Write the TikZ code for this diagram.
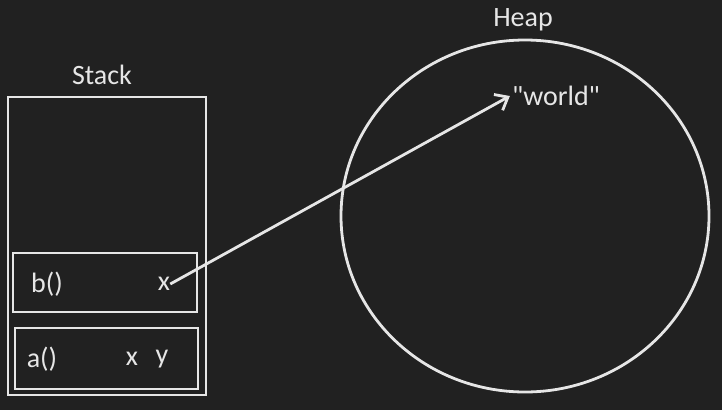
\documentclass[tikz,border=0pt]{standalone}
\usepackage{fontspec}
\setmainfont{Carlito}[Ligatures=TeXOff]
\usetikzlibrary{arrows.meta,shapes.geometric}
\definecolor{slidebg}{HTML}{212121}
\definecolor{chalk}{HTML}{E6E6E6}

\begin{document}
\begin{tikzpicture}[x=1pt,y=-1pt,
    frame/.style={draw=chalk,line width=2.8pt,inner sep=0pt},
    lbl/.style={text=chalk,inner sep=0pt,font=\fontsize{28}{32}\selectfont}]
  \useasboundingbox[fill=slidebg] (0,0) rectangle (722,410);

  \path
  (107,246) node[frame,minimum width=198pt,minimum height=298pt](stack) {}
  (105,282.5) node[frame,minimum width=184pt,minimum height=59pt](bframe) {}
  (106.5,358.5) node[frame,minimum width=183pt,minimum height=61pt](aframe) {}
  (525,216) node[frame,ellipse,minimum width=368pt,minimum height=352pt](heap) {};

  \path
  (102,75) node[lbl](stacklbl) {Stack}
  (523,20) node[lbl](heaplbl) {Heap}
  (47,284) node[lbl](bcall) {b()}
  (164,284) node[lbl](xb) {x}
  (42,359) node[lbl](acall) {a()}
  (132,359) node[lbl](xa) {x}
  (162,359) node[lbl](ya) {y}
  (556,96) node[lbl](world) {"world"};

  \draw[chalk,line width=2.8pt,-{Straight Barb[length=11pt,width=18pt]}]
    (xb.east) -- ([xshift=-2pt]world.west);
\end{tikzpicture}
\end{document}
